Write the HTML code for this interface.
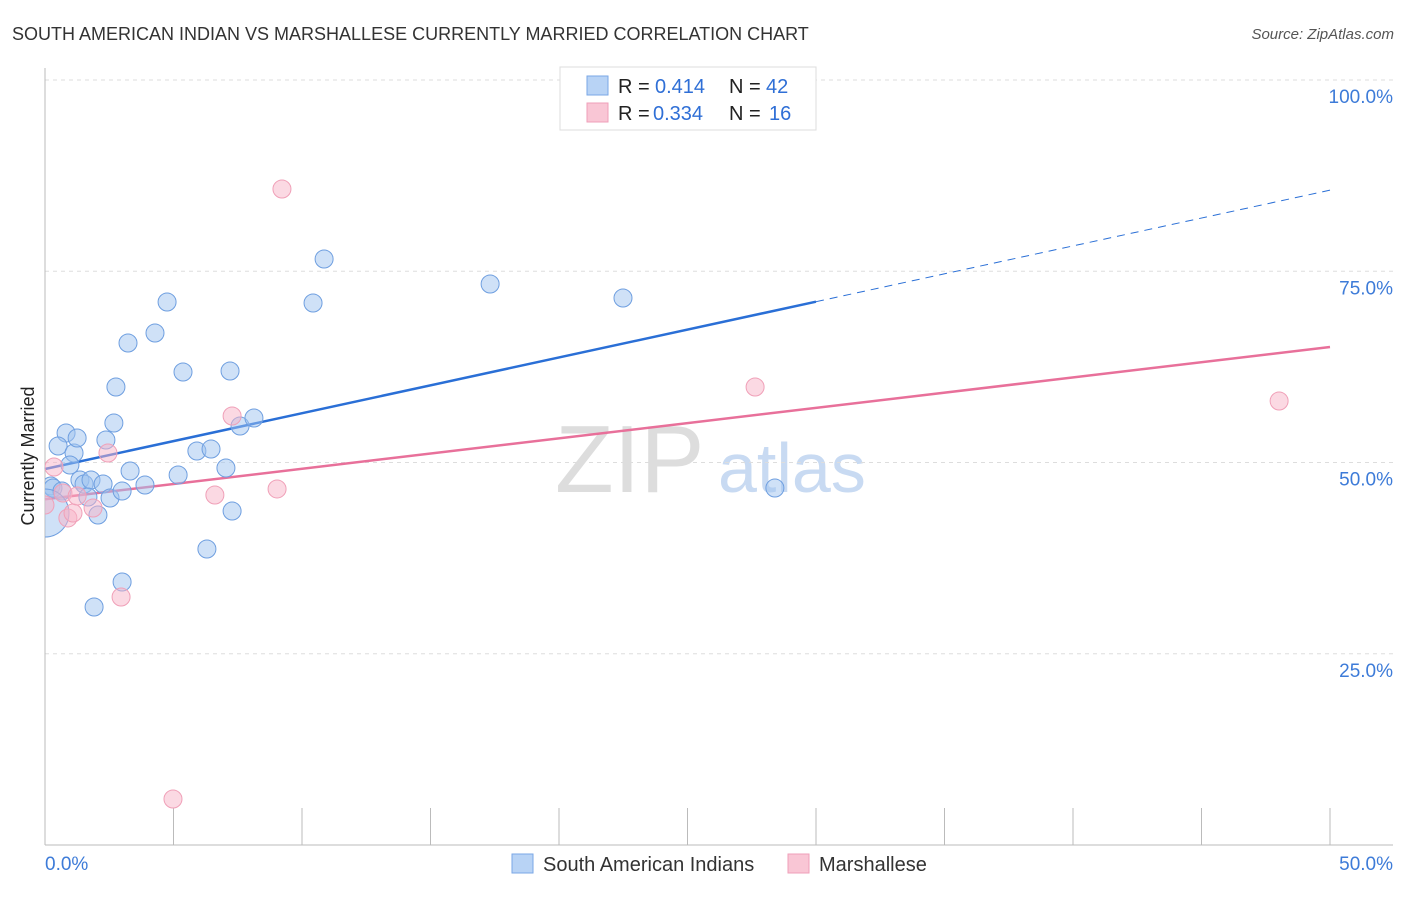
<!DOCTYPE html>
<html><head><meta charset="utf-8"><style>
body{margin:0;background:#fff;font-family:"Liberation Sans",sans-serif;}
svg text{font-family:"Liberation Sans",sans-serif;}
</style></head><body>
<svg id="chart" width="1406" height="892" xmlns="http://www.w3.org/2000/svg">
<defs><clipPath id="plotclip"><rect x="45" y="60" width="1360" height="786"/></clipPath></defs>
<text x="12" y="40" font-size="18" fill="#333">SOUTH AMERICAN INDIAN VS MARSHALLESE CURRENTLY MARRIED CORRELATION CHART</text>
<text x="1394" y="39" font-size="15" fill="#555" text-anchor="end" font-style="italic">Source: ZipAtlas.com</text>
<text x="34" y="456" font-size="18" fill="#222" text-anchor="middle" transform="rotate(-90 34 456)">Currently Married</text>
<text x="555" y="492" font-size="96" fill="#ddd" font-family="Liberation Serif">ZIP</text>
<text x="718" y="492" font-size="70" fill="#c8daf2">atlas</text>
<g id="grid"></g><g id="axes"></g><g id="lines"></g><g id="pts" clip-path="url(#plotclip)"></g>
<g>
<rect x="560" y="67" width="256" height="63" fill="#fff" stroke="#ddd"/>
<rect x="587" y="76" width="21" height="19" fill="#b8d3f5" stroke="#7aa7e6"/>
<rect x="587" y="103" width="21" height="19" fill="#f9c6d5" stroke="#ef9fb9"/>
<text x="618" y="93" font-size="20" fill="#222">R =</text>
<text x="655" y="93" font-size="20" fill="#2f6fd6">0.414</text>
<text x="729" y="93" font-size="20" fill="#222">N =</text>
<text x="766" y="93" font-size="20" fill="#2f6fd6">42</text>
<text x="618" y="120" font-size="20" fill="#222">R =</text>
<text x="653" y="120" font-size="20" fill="#2f6fd6">0.334</text>
<text x="729" y="120" font-size="20" fill="#222">N =</text>
<text x="769" y="120" font-size="20" fill="#2f6fd6">16</text>
</g>
<g>
<rect x="512" y="854" width="21" height="19" fill="#b8d3f5" stroke="#7aa7e6"/>
<text x="543" y="871" font-size="20" fill="#333">South American Indians</text>
<rect x="788" y="854" width="21" height="19" fill="#f9c6d5" stroke="#ef9fb9"/>
<text x="819" y="871" font-size="20" fill="#333">Marshallese</text>
</g>
</svg>
<script>
const yTicks=[100,75,50,25];
const blueX=[0.82,0.51,1.13,2.37,1.25,0.97,2.68,0.23,0.31,0.66,1.36,1.52,1.79,1.67,2.26,2.53,3.00,3.31,3.89,2.06,5.18,5.91,6.46,7.04,7.28,6.30,3.00,1.91,7.59,8.13,7.20,5.37,2.76,3.23,4.28,4.75,10.43,10.86,17.32,22.49,28.40,0.0];
const blueY=[53.86,52.16,51.24,52.94,53.20,49.67,55.16,46.93,46.67,46.27,47.71,47.19,47.71,45.49,47.19,45.36,46.27,48.89,47.06,43.14,48.37,51.50,51.76,49.28,43.66,38.69,34.38,31.11,54.77,55.82,61.96,61.83,59.87,65.62,66.93,70.98,70.85,76.60,73.33,71.50,46.67,43.4];
const pinkX=[0.35,0.70,0.89,1.09,1.25,1.87,2.45,2.96,4.98,6.61,7.28,9.03,9.22,27.63,48.02,0.0];
const pinkY=[49.41,46.01,42.75,43.40,45.62,44.05,51.24,32.42,6.01,45.75,56.08,46.54,85.75,59.87,58.04,44.44];
const blueLine=[49.15,85.6];
const pinkLine=[45.2,65.1];
const blueSolidEnd=30;
const NS='http://www.w3.org/2000/svg';
const X=v=>45+v/50*1285, Y=v=>845-v/100*765;
function mk(t,a,p){const e=document.createElementNS(NS,t);for(const k in a)e.setAttribute(k,a[k]);document.getElementById(p).appendChild(e);return e;}
yTicks.forEach(t=>{
 const l=mk('line',{x1:45,x2:1393,y1:Y(t),y2:Y(t),stroke:'#ddd','stroke-dasharray':'4,4'},'grid');
 
 
 const tx=mk('text',{x:1393,y:Y(t)+23,'font-size':19,fill:'#3d7bd8','text-anchor':'end'},'grid');
 tx.textContent=t.toFixed(1)+'%';
 
 
});
mk('line',{x1:45,x2:45,y1:68,y2:845,stroke:'#bbb'},'axes');
mk('line',{x1:45,x2:1393,y1:845,y2:845,stroke:'#bbb'},'axes');
for(let i=0;i<=10;i++){mk('line',{x1:X(i*5),x2:X(i*5),y1:808,y2:845,stroke:'#bbb'},'axes');}
const x0=mk('text',{x:45,y:870,'font-size':19,fill:'#3d7bd8'},'axes');x0.textContent='0.0%';


const x1=mk('text',{x:1393,y:870,'font-size':19,fill:'#3d7bd8','text-anchor':'end'},'axes');x1.textContent='50.0%';


const by=v=>blueLine[0]+(blueLine[1]-blueLine[0])*v/50;
const py=v=>pinkLine[0]+(pinkLine[1]-pinkLine[0])*v/50;
const bl=mk('line',{x1:X(0),y1:Y(by(0)),x2:X(blueSolidEnd),y2:Y(by(blueSolidEnd)),stroke:'#2a6fd6','stroke-width':2.5},'lines');


const bd=mk('line',{x1:X(blueSolidEnd),y1:Y(by(blueSolidEnd)),x2:X(50),y2:Y(by(50)),stroke:'#2a6fd6','stroke-width':1,'stroke-dasharray':'8,6'},'lines');


const pl=mk('line',{x1:X(0),y1:Y(py(0)),x2:X(50),y2:Y(py(50)),stroke:'#e8709a','stroke-width':2.5},'lines');


blueX.forEach((v,i)=>{
 const big=i===blueX.length-1;
 const c=mk('circle',{cx:X(v),cy:Y(blueY[i]),r:big?24:9,fill:'rgba(160,196,240,0.5)',stroke:'#6f9fe0','stroke-width':1},'pts');
 
 
});
pinkX.forEach((v,i)=>{
 const c=mk('circle',{cx:X(v),cy:Y(pinkY[i]),r:9,fill:'rgba(248,180,200,0.5)',stroke:'#f0a0b8','stroke-width':1},'pts');
 
 
});
</script>
</body></html>
